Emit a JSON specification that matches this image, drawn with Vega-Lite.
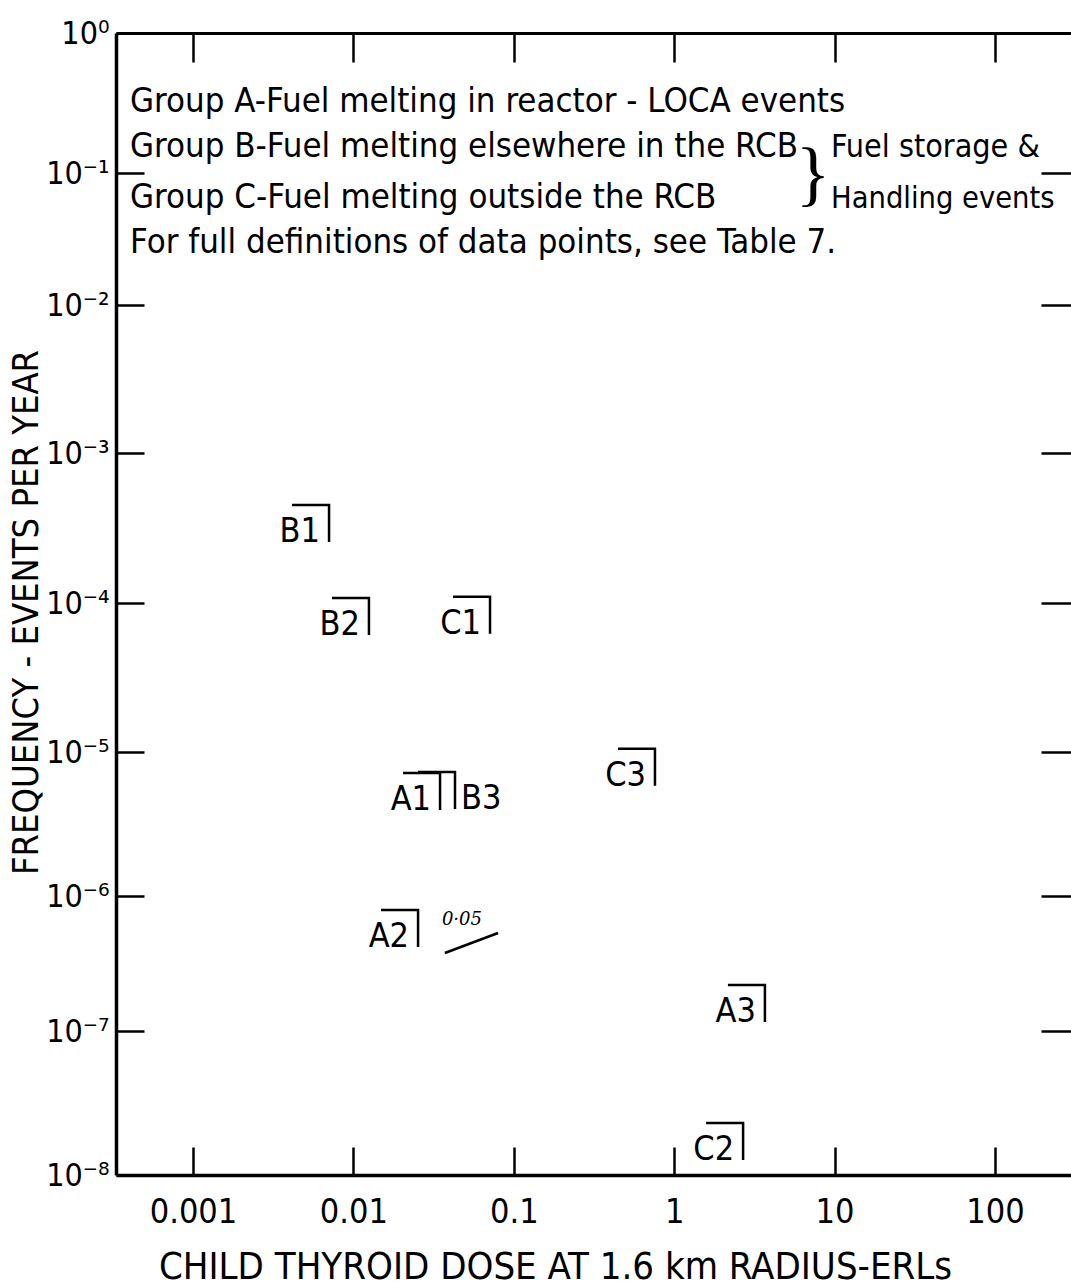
{
  "$schema": "https://vega.github.io/schema/vega-lite/v6.json",
  "width": 955,
  "height": 1142,
  "autosize": {"type": "none"},
  "padding": {"left": 116, "top": 33, "right": 0, "bottom": 112},
  "background": "white",
  "config": {
    "view": {"stroke": null},
    "font": "Liberation Sans Narrow, DejaVu Sans Condensed, sans-serif"
  },
  "datasets": {
    "points": [
      {"id": "B1", "dose": 0.00705, "freq": 0.00045, "side": "left"},
      {"id": "B2", "dose": 0.0125, "freq": 0.000108, "side": "left"},
      {"id": "C1", "dose": 0.0711, "freq": 0.00011, "side": "left"},
      {"id": "A1", "dose": 0.0347, "freq": 0.00000715, "side": "left"},
      {"id": "B3", "dose": 0.043, "freq": 0.00000726, "side": "right"},
      {"id": "C3", "dose": 0.759, "freq": 0.0000105, "side": "left"},
      {"id": "A2", "dose": 0.0253, "freq": 0.000000787, "side": "left"},
      {"id": "A3", "dose": 3.68, "freq": 0.000000219, "side": "left"},
      {"id": "C2", "dose": 2.69, "freq": 0.000000023, "side": "left"}
    ],
    "notes": [
      {"t": "Group A-Fuel melting in reactor - LOCA events", "dose": 0.000405, "freq": 0.273},
      {"t": "Group B-Fuel melting elsewhere in the RCB", "dose": 0.000405, "freq": 0.13},
      {"t": "Group C-Fuel melting outside the RCB", "dose": 0.000405, "freq": 0.0543},
      {"t": "For full definitions of data points, see Table 7.", "dose": 0.000405, "freq": 0.0248}
    ],
    "sidenotes": [
      {"t": "Fuel storage &", "dose": 9.51, "freq": 0.13},
      {"t": "Handling events", "dose": 9.51, "freq": 0.0543}
    ],
    "brace": [
      {"t": "}", "dose": 7.33, "freq": 0.0966}
    ],
    "handnote": [
      {"t": "0·05", "dose": 0.0475, "freq": 0.000000664}
    ],
    "stroke": [
      {"dose": 0.0372, "freq": 0.000000378, "dose2": 0.0798, "freq2": 0.000000532}
    ]
  },
  "resolve": {"axis": {"x": "independent", "y": "independent"}},
  "layer": [
    {
      "data": {"name": "points"},
      "mark": {"type": "point", "shape": "M -1 0 L 0 0 L 0 1", "size": 5476, "filled": false, "stroke": "black", "strokeWidth": 2.5, "opacity": 1},
      "encoding": {
        "x": {
          "field": "dose", "type": "quantitative",
          "scale": {"type": "log", "domain": [0.000331, 298], "nice": false},
          "axis": {
            "orient": "bottom", "values": [0.001, 0.01, 0.1, 1, 10, 100], "format": "~g",
            "tickSize": -28, "tickWidth": 2.5, "tickColor": "black",
            "domainColor": "black", "domainWidth": 3.5, "grid": false,
            "labelFontSize": 34, "labelColor": "black", "labelPadding": 48, "labelFlush": false, "labelOverlap": false,
            "title": "CHILD THYROID DOSE AT 1.6 km RADIUS-ERLs", "titleFontSize": 38, "titleFontWeight": "normal",
            "titleColor": "black", "titleX": 439, "titleY": 103, "titleBaseline": "alphabetic", "titleAlign": "center"
          }
        },
        "y": {
          "field": "freq", "type": "quantitative",
          "scale": {"type": "log", "domain": [1e-8, 1e-7, 1e-6, 1e-5, 1e-4, 1e-3, 1e-2, 1e-1, 1], "range": [1142, 998, 863, 719, 570, 420, 272, 140, 0], "nice": false},
          "axis": {
            "orient": "left", "values": [1e-8, 1e-7, 1e-6, 1e-5, 1e-4, 1e-3, 1e-2, 1e-1, 1],
            "labelExpr": "'10' + (datum.value >= 1 ? '⁰' : '⁻' + ['⁰','¹','²','³','⁴','⁵','⁶','⁷','⁸','⁹'][round(-log(datum.value)/LN10)])",
            "tickSize": -28, "tickWidth": 2.5, "tickColor": "black",
            "domainColor": "black", "domainWidth": 3.5, "grid": false,
            "labelFontSize": 32, "labelColor": "black", "labelPadding": 35, "labelFlush": false, "labelOverlap": false,
            "title": "FREQUENCY - EVENTS PER YEAR", "titleFontSize": 36, "titleFontWeight": "normal",
            "titleColor": "black", "titleX": -90, "titleY": 579, "titleAngle": -90, "titleAlign": "center", "titleBaseline": "middle"
          }
        }
      }
    },
    {
      "data": {"name": "points"},
      "transform": [{"filter": "datum.side == 'left'"}],
      "mark": {"type": "text", "align": "right", "baseline": "alphabetic", "dx": -9, "dy": 37, "fontSize": 34, "color": "black"},
      "encoding": {
        "x": {
          "field": "dose", "type": "quantitative",
          "axis": {"orient": "top", "values": [0.001, 0.01, 0.1, 1, 10, 100], "labels": false, "title": null,
                   "tickSize": -29, "tickWidth": 2.5, "tickColor": "black", "domainColor": "black", "domainWidth": 3, "grid": false}
        },
        "y": {
          "field": "freq", "type": "quantitative",
          "axis": {"orient": "right", "values": [1e-8, 1e-7, 1e-6, 1e-5, 1e-4, 1e-3, 1e-2, 1e-1, 1], "labels": false, "title": null,
                   "tickSize": -30, "tickWidth": 2.5, "tickColor": "black", "domain": false, "grid": false}
        },
        "text": {"field": "id"}
      }
    },
    {
      "data": {"name": "points"},
      "transform": [{"filter": "datum.side == 'right'"}],
      "mark": {"type": "text", "align": "left", "baseline": "alphabetic", "dx": 6, "dy": 37, "fontSize": 34, "color": "black"},
      "encoding": {
        "x": {"field": "dose", "type": "quantitative", "axis": null},
        "y": {"field": "freq", "type": "quantitative", "axis": null},
        "text": {"field": "id"}
      }
    },
    {
      "data": {"name": "notes"},
      "mark": {"type": "text", "align": "left", "baseline": "alphabetic", "fontSize": 34.5, "color": "black"},
      "encoding": {
        "x": {"field": "dose", "type": "quantitative", "axis": null},
        "y": {"field": "freq", "type": "quantitative", "axis": null},
        "text": {"field": "t"}
      }
    },
    {
      "data": {"name": "sidenotes"},
      "transform": [{"filter": "datum.t == 'Fuel storage &'"}],
      "mark": {"type": "text", "align": "left", "baseline": "alphabetic", "fontSize": 32, "color": "black"},
      "encoding": {
        "x": {"field": "dose", "type": "quantitative", "axis": null},
        "y": {"field": "freq", "type": "quantitative", "axis": null},
        "text": {"field": "t"}
      }
    },
    {
      "data": {"name": "sidenotes"},
      "transform": [{"filter": "datum.t != 'Fuel storage &'"}],
      "mark": {"type": "text", "align": "left", "baseline": "alphabetic", "fontSize": 30.5, "color": "black"},
      "encoding": {
        "x": {"field": "dose", "type": "quantitative", "axis": null},
        "y": {"field": "freq", "type": "quantitative", "axis": null},
        "text": {"field": "t"}
      }
    },
    {
      "data": {"name": "brace"},
      "mark": {"type": "text", "align": "center", "baseline": "middle", "fontSize": 72, "color": "black", "font": "Liberation Serif"},
      "encoding": {
        "x": {"field": "dose", "type": "quantitative", "axis": null},
        "y": {"field": "freq", "type": "quantitative", "axis": null},
        "text": {"field": "t"}
      }
    },
    {
      "data": {"name": "handnote"},
      "mark": {"type": "text", "align": "center", "baseline": "middle", "fontSize": 18, "fontStyle": "italic", "color": "black", "font": "DejaVu Serif"},
      "encoding": {
        "x": {"field": "dose", "type": "quantitative", "axis": null},
        "y": {"field": "freq", "type": "quantitative", "axis": null},
        "text": {"field": "t"}
      }
    },
    {
      "data": {"name": "stroke"},
      "mark": {"type": "rule", "color": "black", "strokeWidth": 2.5},
      "encoding": {
        "x": {"field": "dose", "type": "quantitative", "axis": null},
        "y": {"field": "freq", "type": "quantitative", "axis": null},
        "x2": {"field": "dose2"},
        "y2": {"field": "freq2"}
      }
    }
  ]
}
